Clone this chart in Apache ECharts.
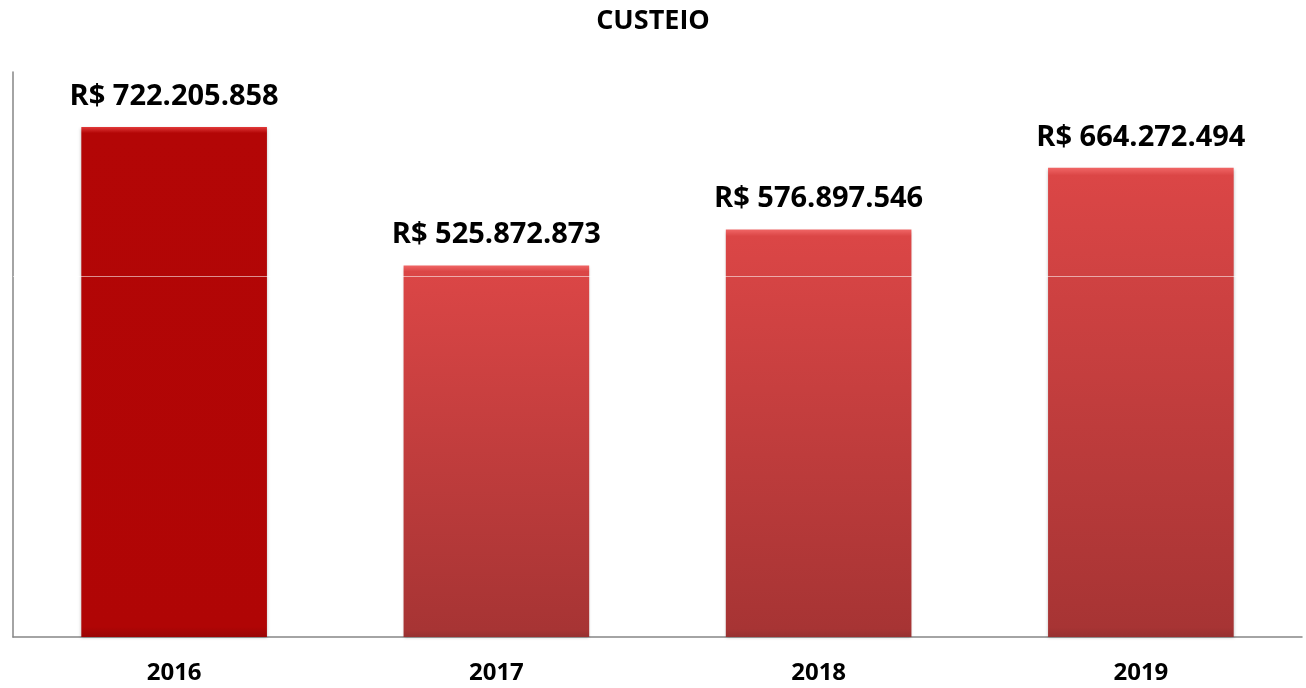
<!DOCTYPE html>
<html>
<head>
<meta charset="utf-8">
<title>CUSTEIO</title>
<script src="https://cdn.jsdelivr.net/npm/echarts@6/dist/echarts.min.js"></script>
<style>
  html, body { margin: 0; padding: 0; background: #fff; }
  #chart { width: 1306px; height: 688px; }
</style>
</head>
<body>
<div id="chart"></div>
<script>
const years = ['2016', '2017', '2018', '2019']
const values = [722205858, 525872873, 576897546, 664272494]
const axisMax = 800000000
const refLine = [511000000]

const font = '"Open Sans", "DejaVu Sans", sans-serif'

// 2016 is plain dark red, the others are the lighter gradient bars
const barColor = (index) => {
  if (index === 0) {
    return new echarts.graphic.LinearGradient(0, 0, 0, 1, [
      { offset: 0, color: '#E23A3A' },
      { offset: 0.012, color: '#B30606' },
      { offset: 0.98, color: '#B00505' },
      { offset: 1, color: '#9A0404' }
    ])
  }
  return new echarts.graphic.LinearGradient(0, 0, 0, 1, [
    { offset: 0, color: '#F06565' },
    { offset: 0.016, color: '#DB4646' },
    { offset: 0.98, color: '#A73434' },
    { offset: 1, color: '#963030' }
  ])
}

const formatBRL = (v) => 'R$ ' + String(Math.round(v)).replace(/\B(?=(\d{3})+(?!\d))/g, '.')

const chart = echarts.init(document.getElementById('chart'))

const option = {
  animation: false,
  title: {
    text: 'CUSTEIO',
    left: 'center',
    top: 3,
    textStyle: { fontFamily: font, fontSize: 27, fontWeight: 'bold', color: '#000' }
  },
  grid: { left: 13, right: 4, top: 72, bottom: 51, containLabel: false },
  xAxis: {
    type: 'category',
    data: years,
    axisLine: { show: true, lineStyle: { color: '#868686', width: 1.5 } },
    axisTick: { show: false },
    axisLabel: { color: '#000', fontFamily: font, fontSize: 24, fontWeight: 'bold', margin: 24 }
  },
  yAxis: {
    type: 'value',
    min: 0,
    max: axisMax,
    axisLine: { show: true, lineStyle: { color: '#868686', width: 1.5 } },
    axisTick: { show: false },
    axisLabel: { show: false },
    splitLine: { show: false }
  },
  series: [
    {
      type: 'bar',
      data: values,
      barWidth: '57.6%',
      itemStyle: {
        color: (params) => barColor(params.dataIndex),
        shadowColor: 'rgba(0,0,0,0.25)',
        shadowBlur: 3,
        shadowOffsetY: 1
      },
      label: {
        show: true,
        position: 'top',
        distance: 16,
        formatter: (p) => formatBRL(p.value),
        color: '#000',
        fontFamily: font,
        fontSize: 29,
        fontWeight: 'bold'
      },
      markLine: {
        silent: true,
        symbol: 'none',
        label: { show: false },
        lineStyle: { color: 'rgba(255,255,255,0.55)', width: 1, type: 'solid' },
        data: refLine.map(v => ({ yAxis: v }))
      }
    }
  ]
}

chart.setOption(option)
window.addEventListener('resize', () => chart.resize())
</script>
</body>
</html>
